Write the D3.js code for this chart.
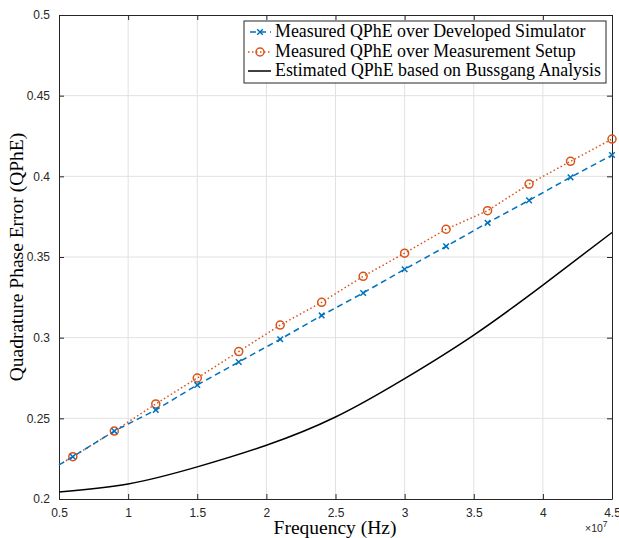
<!DOCTYPE html>
<html>
<head>
<meta charset="utf-8">
<script src="https://cdn.jsdelivr.net/npm/d3@7"></script>
<style>
body { margin:0; background:#fff; }
.tick text { font-family: "Liberation Sans", Arial, sans-serif; font-size:12px; fill:#262626; }
.serif { font-family: "Liberation Serif", "DejaVu Serif", serif; }
</style>
</head>
<body>
<div id="chart"></div>
<script>
// frequencies in units of 1e7 Hz
var freqMeas = [0.5, 0.6, 0.9, 1.2, 1.5, 1.8, 2.1, 2.4, 2.7, 3.0, 3.3, 3.6, 3.9, 4.2, 4.5];
var qpheSim  = [0.2212, 0.2262, 0.2421, 0.2552, 0.2707, 0.2849, 0.2990, 0.3138, 0.3277, 0.3424, 0.3566, 0.3712, 0.3851, 0.3994, 0.4132];
var qpheMeas = [0.2212, 0.2262, 0.2421, 0.2589, 0.2750, 0.2914, 0.3078, 0.3219, 0.3380, 0.3524, 0.3672, 0.3787, 0.3952, 0.4093, 0.4231];
var freqEst  = [0.5, 1.0, 1.5, 2.0, 2.5, 3.0, 3.5, 4.0, 4.5];
var qpheEst  = [0.2043, 0.2093, 0.2199, 0.2333, 0.2508, 0.2746, 0.3016, 0.3326, 0.3652];
var xTicks = [0.5, 1, 1.5, 2, 2.5, 3, 3.5, 4, 4.5];
var yTicks = [0.2, 0.25, 0.3, 0.35, 0.4, 0.45, 0.5];
var legendLabels = ["Measured QPhE over Developed Simulator",
                    "Measured QPhE over Measurement Setup",
                    "Estimated QPhE based on Bussgang Analysis"];

var W = 619, H = 538;
var margin = {top:15, left:59, right:7, bottom:39};
var width = W - margin.left - margin.right;
var height = H - margin.top - margin.bottom;

var blue = "#0072BD", orange = "#D95319";

var svg = d3.select("#chart").append("svg")
    .attr("width", W).attr("height", H);
var g = svg.append("g")
    .attr("transform", "translate(" + margin.left + "," + margin.top + ")");

var x = d3.scaleLinear().domain([0.5, 4.5]).range([0, width]);
var y = d3.scaleLinear().domain([0.2, 0.5]).range([height, 0]);

// fit a serif text to the width it has in the picture
function fitText(sel, target) {
  var w = sel.node().getComputedTextLength();
  var fs = parseFloat(sel.attr("font-size"));
  sel.attr("font-size", (fs * target / w).toFixed(2) + "px");
}

// grid
g.append("g").selectAll("line").data(xTicks.slice(1, -1)).enter().append("line")
    .attr("x1", d => x(d)).attr("x2", d => x(d)).attr("y1", 0).attr("y2", height)
    .attr("stroke", "#e1e1e1").attr("stroke-width", 1);
g.append("g").selectAll("line").data(yTicks.slice(1, -1)).enter().append("line")
    .attr("y1", d => y(d)).attr("y2", d => y(d)).attr("x1", 0).attr("x2", width)
    .attr("stroke", "#e1e1e1").attr("stroke-width", 1);

// axes
g.append("g").attr("transform", "translate(0," + height + ")")
    .call(d3.axisBottom(x).tickValues(xTicks).tickSizeInner(-5).tickSizeOuter(0).tickPadding(9).tickFormat(d3.format("")));
g.append("g")
    .call(d3.axisLeft(y).tickValues(yTicks).tickSizeInner(-5).tickSizeOuter(0).tickPadding(9).tickFormat(d3.format("")));
g.append("g")
    .call(d3.axisTop(x).tickValues(xTicks).tickSizeInner(-5).tickSizeOuter(0).tickFormat(""));
g.append("g").attr("transform", "translate(" + width + ",0)")
    .call(d3.axisRight(y).tickValues(yTicks).tickSizeInner(-5).tickSizeOuter(0).tickFormat(""));
g.selectAll(".domain").attr("stroke", "#262626");
g.selectAll(".tick line").attr("stroke", "#262626");

// lines
var lineSim = d3.line().x((d, i) => x(freqMeas[i])).y(d => y(d));
var lineEst = d3.line().x((d, i) => x(freqEst[i])).y(d => y(d)).curve(d3.curveNatural);

g.append("path").datum(qpheEst).attr("d", lineEst)
    .attr("fill", "none").attr("stroke", "#000").attr("stroke-width", 1.5);
g.append("path").datum(qpheMeas).attr("d", lineSim)
    .attr("fill", "none").attr("stroke", orange).attr("stroke-width", 1.5)
    .attr("stroke-dasharray", "1.5,2.5");
g.append("path").datum(qpheSim).attr("d", lineSim)
    .attr("fill", "none").attr("stroke", blue).attr("stroke-width", 1.5)
    .attr("stroke-dasharray", "6,4");

// markers (first sample has no marker)
g.append("g").selectAll("circle").data(qpheMeas.slice(1)).enter().append("circle")
    .attr("cx", (d, i) => x(freqMeas[i + 1])).attr("cy", d => y(d)).attr("r", 4)
    .attr("fill", "none").attr("stroke", orange).attr("stroke-width", 1.5);
function cross(sel, cx, cy, s, col) {
  sel.append("path")
    .attr("d", "M" + (cx - s) + "," + (cy - s) + "L" + (cx + s) + "," + (cy + s) +
               "M" + (cx - s) + "," + (cy + s) + "L" + (cx + s) + "," + (cy - s))
    .attr("stroke", col).attr("stroke-width", 1.5);
}
var xm = g.append("g");
qpheSim.slice(1).forEach(function(d, i) { cross(xm, x(freqMeas[i + 1]), y(d), 2.8, blue); });

// legend
var lg = svg.append("g").attr("transform", "translate(244,21)");
lg.append("rect").attr("width", 362).attr("height", 62)
    .attr("fill", "#fff").attr("stroke", "#262626").attr("stroke-width", 1);
var rows = [11, 31, 50];
lg.append("line").attr("x1", 4).attr("x2", 27).attr("y1", rows[0]).attr("y2", rows[0])
    .attr("stroke", blue).attr("stroke-width", 1.5).attr("stroke-dasharray", "6,4").attr("stroke-dashoffset", -2);
cross(lg, 16, rows[0], 2.8, blue);
lg.append("line").attr("x1", 4).attr("x2", 27).attr("y1", rows[1]).attr("y2", rows[1])
    .attr("stroke", orange).attr("stroke-width", 1.5).attr("stroke-dasharray", "1.5,2.5");
lg.append("circle").attr("cx", 16).attr("cy", rows[1]).attr("r", 4)
    .attr("fill", "none").attr("stroke", orange).attr("stroke-width", 1.5);
lg.append("line").attr("x1", 4).attr("x2", 27).attr("y1", rows[2]).attr("y2", rows[2])
    .attr("stroke", "#000").attr("stroke-width", 1.5);
var legTexts = lg.selectAll("text.leg").data(legendLabels).enter().append("text")
    .attr("class", "serif leg")
    .attr("x", 31).attr("y", (d, i) => rows[i] + 5)
    .attr("font-size", "16px").attr("fill", "#000")
    .text(d => d);
fitText(d3.select(legTexts.nodes()[2]), 326);
legTexts.attr("font-size", d3.select(legTexts.nodes()[2]).attr("font-size"));

// axis labels
svg.append("text").attr("class", "serif")
    .attr("x", margin.left + width / 2 - 0.5).attr("y", 534)
    .attr("text-anchor", "middle").attr("font-size", "19.5px").attr("fill", "#000")
    .text("Frequency (Hz)");
svg.append("text").attr("class", "serif")
    .attr("transform", "translate(23," + (margin.top + height / 2) + ") rotate(-90)")
    .attr("text-anchor", "middle").attr("font-size", "19.5px").attr("fill", "#000")
    .text("Quadrature Phase Error (QPhE)");

// exponent
var ex = svg.append("text").attr("x", 585).attr("y", 532)
    .attr("font-family", "Liberation Sans, Arial, sans-serif").attr("fill", "#262626");
ex.append("tspan").attr("font-size", "10.5px").text("\u00d710");
ex.append("tspan").attr("font-size", "8.5px").attr("dy", -5).text("7");
</script>
</body>
</html>
